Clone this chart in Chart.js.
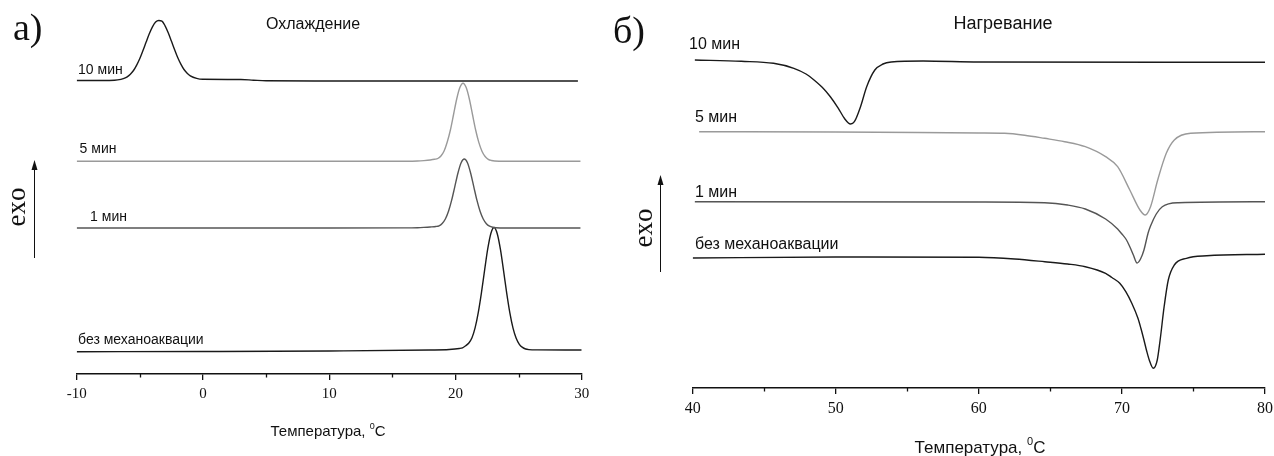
<!DOCTYPE html>
<html>
<head>
<meta charset="utf-8">
<script src="https://cdn.jsdelivr.net/npm/chart.js@4.4.1/dist/chart.umd.min.js"></script>
<style>
  html, body { margin: 0; padding: 0; background: #fff; overflow: hidden; }
  #wrap { position: relative; width: 1274px; height: 456px; overflow: hidden; }
  canvas { position: absolute; top: 0; }
  #cool { left: 0; }
  #heat { left: 600px; }
</style>
</head>
<body>
<div id="wrap">
  <canvas id="cool" width="600" height="456"></canvas>
  <canvas id="heat" width="690" height="456"></canvas>
</div>
<script>
// --- Охлаждение (a): температура, °C / сигнал, отн. ед.
const coolTicks = [-10, 0, 10, 20, 30];
const coolMinor = [-5, 5, 15, 25];
const coolNames = ['10 мин', '5 мин', '1 мин', 'без механоаквации'];

const coolT10 = [-10, -8, -7, -6.5, -6.25, -6, -5.75, -5.5, -5.25, -5, -4.75, -4.5, -4.25, -4, -3.75, -3.5, -3.25, -3, -2.75, -2.5, -2.25, -2, -1.75, -1.5, -1.25, -1, -0.5, 0, 3, 4, 5, 10, 20, 29.7];
const coolV10 = [29.35, 29.35, 29.37, 29.46, 29.56, 29.72, 29.98, 30.35, 30.89, 31.55, 32.35, 33.2, 34.03, 34.72, 35.19, 35.35, 35.29, 34.82, 34.13, 33.3, 32.45, 31.65, 30.99, 30.45, 30.08, 29.82, 29.56, 29.47, 29.45, 29.38, 29.32, 29.3, 29.3, 29.3];

const coolT5 = [-10, 10, 16, 17, 17.5, 18, 18.35, 18.6, 18.85, 19.1, 19.35, 19.6, 19.85, 20.1, 20.35, 20.6, 20.85, 21.1, 21.35, 21.6, 21.85, 22.1, 22.35, 22.6, 22.85, 23.1, 25, 29.9];
const coolV5 = [21.27, 21.27, 21.28, 21.3, 21.34, 21.4, 21.47, 21.55, 21.8, 22.3, 23.2, 24.4, 25.95, 27.5, 28.64, 29.07, 28.64, 27.5, 25.95, 24.4, 23.16, 22.28, 21.75, 21.47, 21.35, 21.3, 21.27, 21.27];

const coolT1 = [-10, 10, 16, 17, 17.5, 18, 18.45, 18.7, 18.95, 19.2, 19.45, 19.7, 19.95, 20.2, 20.45, 20.7, 20.95, 21.2, 21.45, 21.7, 21.95, 22.2, 22.45, 22.7, 22.95, 23.2, 25, 29.9];
const coolV1 = [14.6, 14.6, 14.61, 14.63, 14.66, 14.7, 14.75, 14.82, 15.05, 15.5, 16.27, 17.38, 18.74, 20.1, 21.12, 21.5, 21.12, 20.1, 18.74, 17.38, 16.27, 15.5, 15.03, 14.78, 14.67, 14.63, 14.6, 14.6];

const coolT0 = [-10, 0, 10, 18, 19.5, 20.31, 20.56, 20.81, 21.06, 21.31, 21.56, 21.81, 22.06, 22.31, 22.56, 22.81, 23.06, 23.31, 23.56, 23.81, 24.06, 24.31, 24.56, 24.81, 25.06, 25.31, 25.56, 25.81, 26.5, 30];
const coolV0 = [2.23, 2.25, 2.3, 2.4, 2.45, 2.55, 2.62, 2.82, 3.1, 3.62, 4.63, 6.16, 8.14, 10.39, 12.53, 14.08, 14.65, 14.03, 12.48, 10.34, 8.09, 6.11, 4.58, 3.57, 2.97, 2.66, 2.5, 2.44, 2.41, 2.4];

// --- Нагревание (б)
const heatTicks = [40, 50, 60, 70, 80];
const heatMinor = [45, 55, 65, 75];
const heatNames = ['10 мин', '5 мин', '1 мин', 'без механоаквации'];

const heatT10 = [40.15, 43.4, 45.65, 47.07, 47.92, 48.48, 49.05, 49.62, 50.18, 50.6, 51.03, 51.3, 51.73, 52.16, 52.73, 53.3, 53.87, 56.1, 60, 80];
const heatV10 = [32.8, 32.67, 32.47, 31.97, 31.4, 30.8, 30.07, 29.13, 27.97, 26.97, 26.4, 26.63, 28.13, 30.13, 31.8, 32.4, 32.6, 32.7, 32.6, 32.57];

const heatT5 = [40.45, 50, 60, 61.8, 63.2, 64.6, 66.0, 67.44, 68.86, 69.7, 70.55, 71.26, 71.63, 72.0, 72.5, 73.1, 73.66, 74.8, 80];
const heatV5 = [25.63, 25.6, 25.5, 25.47, 25.28, 24.97, 24.63, 24.13, 23.13, 22.13, 19.8, 17.8, 17.3, 18.13, 20.8, 23.47, 24.8, 25.47, 25.63];

const heatT1 = [40.15, 60, 64.6, 66.2, 67.44, 68.86, 69.7, 70.0, 70.3, 70.55, 70.8, 71.06, 71.3, 71.54, 71.83, 72.0, 72.4, 72.82, 73.95, 80];
const heatV1 = [18.63, 18.6, 18.53, 18.3, 17.9, 16.9, 15.9, 15.4, 14.85, 14.13, 13.3, 12.5, 12.9, 13.8, 15.5, 16.2, 17.4, 18.13, 18.53, 18.63];

const heatT0 = [40, 50, 60, 62.5, 64.61, 66.2, 67.44, 68.86, 69.3, 69.85, 70.27, 70.69, 71.12, 71.33, 71.54, 71.73, 71.91, 72.19, 72.47, 72.67, 72.95, 73.24, 73.66, 74.51, 75.93, 80];
const heatV0 = [13.0, 13.1, 13.07, 12.9, 12.63, 12.4, 12.13, 11.47, 11.05, 10.47, 9.63, 8.47, 6.97, 5.95, 4.8, 3.7, 2.8, 1.97, 2.8, 4.8, 8.13, 10.8, 12.3, 12.97, 13.23, 13.37];

const BLACK = '#1a1a1a', LIGHT = '#9a9a9a', DARK = '#555555';

const pts = (t, v) => t.map((x, i) => ({ x: x, y: v[i] }));
const line = (t, v, color) => ({ data: pts(t, v), borderColor: color, borderWidth: 1.4, pointRadius: 0, cubicInterpolationMode: 'monotone', fill: false });

// подписи, засечки, стрелка "exo"
const decoPlugin = {
  id: 'deco',
  afterDraw(chart, args, o) {
    const ctx = chart.ctx, xs = chart.scales.x, ys = chart.scales.y, a = chart.chartArea;
    ctx.save();
    ctx.strokeStyle = '#111';
    ctx.fillStyle = '#111';

    // мелкие засечки
    ctx.lineWidth = 1.3;
    o.minor.forEach(v => {
      const x = Math.round(xs.getPixelForValue(v)) + 0.5;
      ctx.beginPath(); ctx.moveTo(x, a.bottom); ctx.lineTo(x, a.bottom + 3.5); ctx.stroke();
    });

    // подписи кривых
    ctx.font = o.labelSize + 'px "Liberation Sans", Arial, sans-serif';
    ctx.textAlign = 'left'; ctx.textBaseline = 'middle';
    o.labels.forEach((l, i) => ctx.fillText(o.names[i], xs.getPixelForValue(l.x), ys.getPixelForValue(l.y)));

    // заголовок
    ctx.textAlign = 'center';
    ctx.font = o.titleSize + 'px "Liberation Sans", Arial, sans-serif';
    ctx.fillText(o.title, o.titleX, o.titleY);

    // подпись оси с надстрочным 0
    const big = o.axisSize + 'px "Liberation Sans", Arial, sans-serif';
    const small = Math.round(o.axisSize * 0.62) + 'px "Liberation Sans", Arial, sans-serif';
    ctx.font = big;
    const p1 = 'Температура, ', w1 = ctx.measureText(p1).width;
    const wc = ctx.measureText('C').width;
    ctx.font = small;
    const w0 = ctx.measureText('0').width;
    const x0 = o.axisX - (w1 + w0 + wc) / 2;
    ctx.textAlign = 'left';
    ctx.font = big;
    ctx.fillText(p1, x0, o.axisY);
    ctx.fillText('C', x0 + w1 + w0, o.axisY);
    ctx.font = small;
    ctx.fillText('0', x0 + w1, o.axisY - o.axisSize * 0.38);

    // буква панели
    ctx.font = o.letterSize + 'px "Liberation Serif", "Times New Roman", serif';
    ctx.textBaseline = 'alphabetic';
    ctx.fillText(o.letter, o.letterX, o.letterY);

    // стрелка exo
    ctx.lineWidth = 1;
    ctx.beginPath(); ctx.moveTo(o.arrowX + 0.5, o.arrowTop + 9); ctx.lineTo(o.arrowX + 0.5, o.arrowBottom); ctx.stroke();
    ctx.beginPath();
    ctx.moveTo(o.arrowX + 0.5, o.arrowTop);
    ctx.lineTo(o.arrowX + 3.5, o.arrowTop + 10);
    ctx.lineTo(o.arrowX - 2.5, o.arrowTop + 10);
    ctx.closePath(); ctx.fill();

    ctx.translate(o.exoX, o.exoY);
    ctx.rotate(-Math.PI / 2);
    ctx.font = o.exoSize + 'px "Liberation Serif", "Times New Roman", serif';
    ctx.textAlign = 'center'; ctx.textBaseline = 'middle';
    ctx.fillText('exo', 0, 0);
    ctx.restore();
  }
};

function makeChart(id, datasets, cfg) {
  return new Chart(document.getElementById(id), {
    type: 'line',
    data: { datasets: datasets },
    plugins: [decoPlugin],
    options: {
      responsive: false,
      animation: false,
      layout: { padding: { left: 0, right: cfg.padRight, top: 10, bottom: 0 } },
      plugins: { legend: { display: false }, tooltip: { enabled: false }, deco: cfg.deco },
      scales: {
        x: {
          type: 'linear', min: cfg.min, max: cfg.max,
          afterBuildTicks: s => { s.ticks = cfg.ticks.map(v => ({ value: v })); },
          afterFit: s => { s.height = cfg.xHeight; },
          ticks: { font: { family: '"Liberation Serif", "Times New Roman", serif', size: cfg.tickSize }, color: '#111', padding: 5, maxRotation: 0, autoSkip: false },
          grid: { display: true, drawOnChartArea: false, drawTicks: true, tickLength: 6, color: '#111', lineWidth: 1.3 },
          border: { display: true, color: '#111', width: 1.5 }
        },
        y: {
          min: 0, max: cfg.yMax,
          afterFit: s => { s.width = cfg.yWidth; },
          ticks: { display: false },
          grid: { display: false },
          border: { display: false }
        }
      }
    }
  });
}

makeChart('cool', [
  line(coolT10, coolV10, BLACK),
  line(coolT5, coolV5, LIGHT),
  line(coolT1, coolV1, DARK),
  line(coolT0, coolV0, BLACK)
], {
  min: -10, max: 30, ticks: coolTicks, yMax: 36.4, yWidth: 76.7, padRight: 18.3, xHeight: 82, tickSize: 15,
  deco: {
    minor: coolMinor, names: coolNames,
    labels: [{ x: -9.89, y: 30.4 }, { x: -9.77, y: 22.5 }, { x: -8.94, y: 15.65 }, { x: -9.89, y: 3.4 }],
    labelSize: 14,
    title: 'Охлаждение', titleX: 313, titleY: 25, titleSize: 16,
    axisX: 328, axisY: 432, axisSize: 15,
    letter: 'а)', letterX: 13, letterY: 40, letterSize: 38,
    arrowX: 34, arrowTop: 160, arrowBottom: 258,
    exoX: 18, exoY: 207, exoSize: 27
  }
});

makeChart('heat', [
  line(heatT10, heatV10, BLACK),
  line(heatT5, heatV5, LIGHT),
  line(heatT1, heatV1, DARK),
  line(heatT0, heatV0, BLACK)
], {
  min: 40, max: 80, ticks: heatTicks, yMax: 37.8, yWidth: 92.7, padRight: 25, xHeight: 68, tickSize: 16,
  deco: {
    minor: heatMinor, names: heatNames,
    labels: [{ x: 39.74, y: 34.3 }, { x: 40.16, y: 27.0 }, { x: 40.16, y: 19.5 }, { x: 40.16, y: 14.3 }],
    labelSize: 16,
    title: 'Нагревание', titleX: 403, titleY: 24, titleSize: 18,
    axisX: 380, axisY: 448, axisSize: 17,
    letter: 'б)', letterX: 13, letterY: 43, letterSize: 38,
    arrowX: 60, arrowTop: 175, arrowBottom: 272,
    exoX: 45, exoY: 228, exoSize: 27
  }
});
</script>
</body>
</html>
